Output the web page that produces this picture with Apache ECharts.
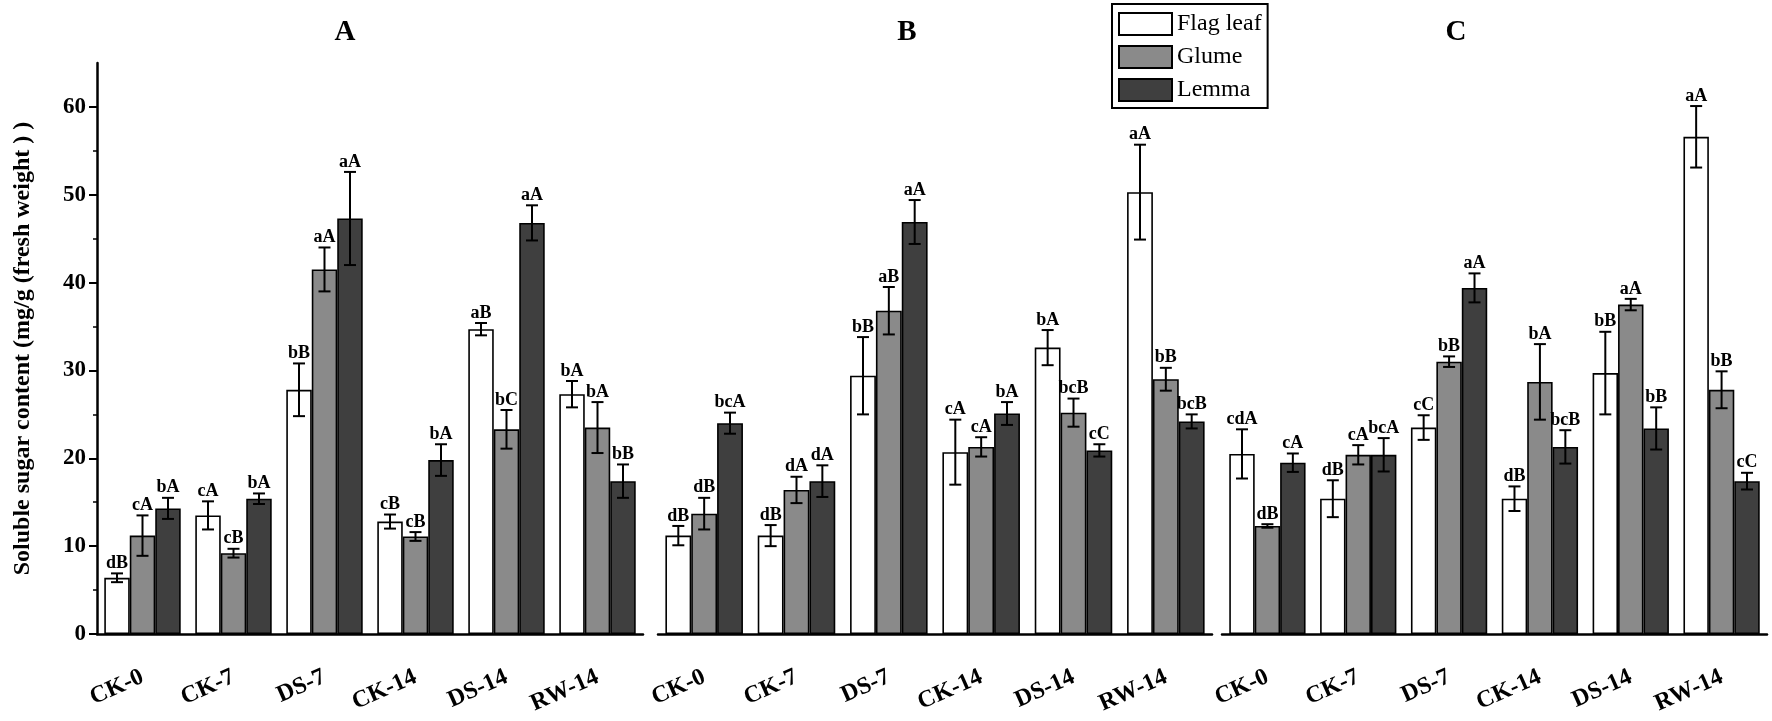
<!DOCTYPE html>
<html>
<head>
<meta charset="utf-8">
<script src="https://cdn.jsdelivr.net/npm/echarts@6/dist/echarts.min.js"></script>
<style>
html,body{margin:0;padding:0;background:#fff;}
#chart{width:1772px;height:721px;}
</style>
</head>
<body>
<div id="chart"></div>
<script>
// ---------- data ----------
const categories = ['CK-0', 'CK-7', 'DS-7', 'CK-14', 'DS-14', 'RW-14'];
const organNames = ['Flag leaf', 'Glume', 'Lemma'];
const panelTitles = ['A', 'B', 'C'];
const yTicks = [0, 10, 20, 30, 40, 50, 60];
const yMinorTicks = [5, 15, 25, 35, 45, 55];
const yAxisTitle = 'Soluble sugar content (mg/g (fresh weight ) )';

// Panel A
const A_flag = [6.4, 13.5, 27.8, 12.8, 34.7, 27.3];
const A_flagErr = [0.5, 1.6, 3.0, 0.8, 0.7, 1.5];
const A_glume = [11.2, 9.2, 41.5, 11.1, 23.3, 23.5];
const A_glumeErr = [2.3, 0.5, 2.5, 0.5, 2.2, 2.9];
const A_lemma = [14.3, 15.4, 47.3, 19.8, 46.8, 17.4];
const A_lemmaErr = [1.2, 0.6, 5.3, 1.8, 2.0, 1.9];
const A_flagSig = ['dB', 'cA', 'bB', 'cB', 'aB', 'bA'];
const A_glumeSig = ['cA', 'cB', 'aA', 'cB', 'bC', 'bA'];
const A_lemmaSig = ['bA', 'bA', 'aA', 'bA', 'aA', 'bB'];

// Panel B
const B_flag = [11.2, 11.2, 29.4, 20.7, 32.6, 50.3];
const B_flagErr = [1.1, 1.2, 4.4, 3.7, 2.0, 5.4];
const B_glume = [13.7, 16.4, 36.8, 21.3, 25.2, 29.0];
const B_glumeErr = [1.8, 1.5, 2.7, 1.1, 1.6, 1.3];
const B_lemma = [24.0, 17.4, 46.9, 25.1, 20.9, 24.2];
const B_lemmaErr = [1.2, 1.8, 2.5, 1.3, 0.7, 0.8];
const B_flagSig = ['dB', 'dB', 'bB', 'cA', 'bA', 'aA'];
const B_glumeSig = ['dB', 'dA', 'aB', 'cA', 'bcB', 'bB'];
const B_lemmaSig = ['bcA', 'dA', 'aA', 'bA', 'cC', 'bcB'];

// Panel C
const C_flag = [20.5, 15.4, 23.5, 15.4, 29.7, 56.6];
const C_flagErr = [2.8, 2.1, 1.4, 1.4, 4.7, 3.5];
const C_glume = [12.3, 20.4, 31.0, 28.7, 37.5, 27.8];
const C_glumeErr = [0.2, 1.1, 0.6, 4.3, 0.65, 2.1];
const C_lemma = [19.5, 20.4, 39.4, 21.3, 23.4, 17.4];
const C_lemmaErr = [1.05, 1.9, 1.65, 1.9, 2.4, 0.95];
const C_flagSig = ['cdA', 'dB', 'cC', 'dB', 'bB', 'aA'];
const C_glumeSig = ['dB', 'cA', 'bB', 'bA', 'aA', 'bB'];
const C_lemmaSig = ['cA', 'bcA', 'aA', 'bcB', 'bB', 'cC'];

// ---------- styling / layout ----------
const FONT = '"Liberation Serif", "Times New Roman", serif';
const colors = ['#ffffff', '#8a8a8a', '#3f3f3f'];
const GAP = 0.16;
const grids = [
  { left: 97, right: 1129, top: 63, bottom: 87 },
  { left: 658, right: 560, top: 63, bottom: 87 },
  { left: 1222, right: 5, top: 63, bottom: 87 }
];
const titlePos = [[345, 33], [907, 33], [1456, 33]];

const panels = [
  { means: [A_flag, A_glume, A_lemma], errs: [A_flagErr, A_glumeErr, A_lemmaErr], sigs: [A_flagSig, A_glumeSig, A_lemmaSig] },
  { means: [B_flag, B_glume, B_lemma], errs: [B_flagErr, B_glumeErr, B_lemmaErr], sigs: [B_flagSig, B_glumeSig, B_lemmaSig] },
  { means: [C_flag, C_glume, C_lemma], errs: [C_flagErr, C_glumeErr, C_lemmaErr], sigs: [C_flagSig, C_glumeSig, C_lemmaSig] }
];

const xAxes = [], yAxes = [], series = [];
panels.forEach((p, g) => {
  // main category axis (ticks at centers, labels)
  xAxes.push({
    type: 'category', gridIndex: g, data: categories, position: 'bottom',
    axisLine: { lineStyle: { color: '#000', width: 2.5 } },
    axisTick: { alignWithLabel: true, length: 9, lineStyle: { color: '#000', width: 2 } },
    axisLabel: { interval: 0, rotate: 24, margin: 42, color: '#000', fontFamily: FONT, fontWeight: 'bold', fontSize: 24 }
  });
  // overlay axis for boundary ticks
  xAxes.push({
    type: 'category', gridIndex: g, data: categories, position: 'bottom',
    axisLine: { show: false },
    axisTick: { length: 5, lineStyle: { color: '#000', width: 1.5 } },
    axisLabel: { show: false }
  });
  const showY = g === 0;
  yAxes.push({
    type: 'value', gridIndex: g, min: 0, max: 65, interval: 10, show: showY, position: 'left',
    name: showY ? yAxisTitle : '', nameLocation: 'middle', nameGap: 62,
    nameTextStyle: { fontFamily: FONT, fontWeight: 'bold', fontSize: 24, color: '#000' },
    axisLine: { show: true, lineStyle: { color: '#000', width: 2.5 } },
    axisTick: { show: true, length: 8, customValues: yTicks, lineStyle: { color: '#000', width: 2 } },
    axisLabel: { customValues: yTicks, margin: 11, color: '#000', fontFamily: FONT, fontWeight: 'bold', fontSize: 23 },
    splitLine: { show: false }
  });
  yAxes.push({
    type: 'value', gridIndex: g, min: 0, max: 65, interval: 5, show: showY, position: 'left',
    axisLine: { show: false },
    axisTick: { show: true, length: 4, customValues: yMinorTicks, lineStyle: { color: '#000', width: 1.5 } },
    axisLabel: { show: false },
    splitLine: { show: false }
  });
  for (let k = 0; k < 3; k++) {
    series.push({
      type: 'bar', name: organNames[k], xAxisIndex: g * 2, yAxisIndex: g * 2,
      data: p.means[k], barGap: '0%', barCategoryGap: (GAP * 100) + '%',
      itemStyle: { color: colors[k], borderColor: '#000', borderWidth: 1.6 },
      emphasis: { disabled: true }, z: 2
    });
  }
  for (let k = 0; k < 3; k++) {
    const means = p.means[k], errs = p.errs[k], sigs = p.sigs[k];
    series.push({
      type: 'custom', xAxisIndex: g * 2, yAxisIndex: g * 2, z: 5,
      data: means.map((m, i) => [i, m, errs[i]]),
      renderItem: function (params, api) {
        const cat = api.value(0), v = api.value(1), e = api.value(2);
        const band = api.size([1, 0])[0];
        const bw = band * (1 - GAP) / 3;
        const cx = api.coord([cat, v])[0] + (k - 1) * bw;
        const yT = api.coord([cat, v + e])[1];
        const yB = api.coord([cat, v - e])[1];
        const cap = 6;
        const ls = { stroke: '#000', lineWidth: 2 };
        return {
          type: 'group', children: [
            { type: 'line', shape: { x1: cx, y1: yT, x2: cx, y2: yB }, style: ls },
            { type: 'line', shape: { x1: cx - cap, y1: yT, x2: cx + cap, y2: yT }, style: ls },
            { type: 'line', shape: { x1: cx - cap, y1: yB, x2: cx + cap, y2: yB }, style: ls },
            { type: 'text', x: cx, y: yT - 1, style: { text: sigs[params.dataIndex], fill: '#000', font: 'bold 18px ' + FONT, textAlign: 'center', textVerticalAlign: 'bottom' } }
          ]
        };
      }
    });
  }
});

const option = {
  animation: false,
  backgroundColor: '#fff',
  grid: grids.map(g => Object.assign({ containLabel: false }, g)),
  xAxis: xAxes,
  yAxis: yAxes,
  legend: {
    data: organNames, orient: 'vertical', left: 1112, top: 4,
    padding: [8, 6, 6, 6], itemWidth: 53, itemHeight: 22, itemGap: 9, icon: 'rect',
    borderColor: '#000', borderWidth: 2,
    itemStyle: { borderColor: '#000', borderWidth: 2 },
    textStyle: { fontFamily: FONT, fontSize: 24, color: '#000', lineHeight: 22 }
  },
  graphic: panelTitles.map((t, i) => ({
    type: 'text', x: titlePos[i][0], y: titlePos[i][1],
    style: { text: t, font: 'bold 29px ' + FONT, fill: '#000', textAlign: 'center', textVerticalAlign: 'middle' }
  })),
  series: series
};

const chart = echarts.init(document.getElementById('chart'));
chart.setOption(option);
</script>
</body>
</html>
